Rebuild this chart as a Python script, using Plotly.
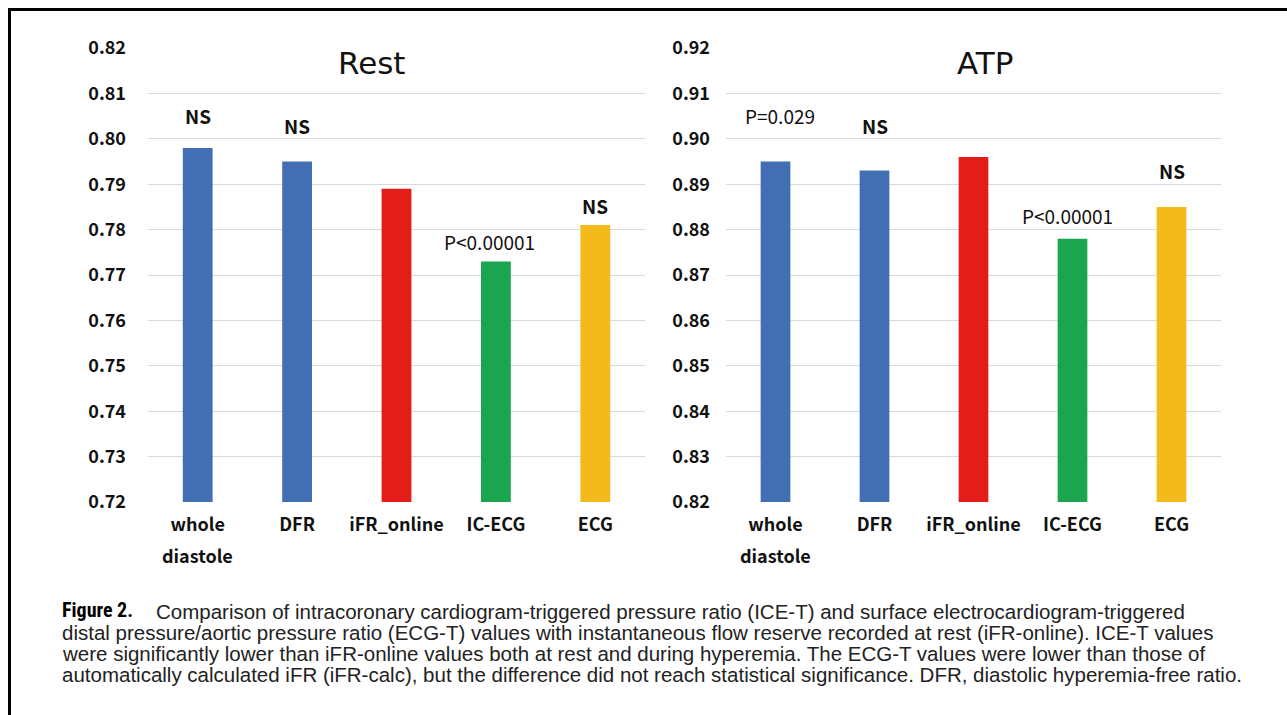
import plotly.graph_objects as go

# ---------------- data ----------------
categories = ["whole diastole", "DFR", "iFR_online", "IC-ECG", "ECG"]
tick_labels = ["whole", "DFR", "iFR_online", "IC-ECG", "ECG"]
tick_second_line = ["diastole", "", "", "", ""]
bar_colors = ["#426EB4", "#426EB4", "#E31E1A", "#1BA54E", "#F4BA1B"]

rest_values = [0.798, 0.795, 0.789, 0.773, 0.781]
atp_values = [0.895, 0.893, 0.896, 0.878, 0.885]

rest_labels = ["NS", "NS", "", "P&lt;0.00001", "NS"]
atp_labels = ["P=0.029", "NS", "", "P&lt;0.00001", "NS"]

rest_ticks = [0.72, 0.73, 0.74, 0.75, 0.76, 0.77, 0.78, 0.79, 0.80, 0.81, 0.82]
atp_ticks = [0.82, 0.83, 0.84, 0.85, 0.86, 0.87, 0.88, 0.89, 0.90, 0.91, 0.92]

panel_titles = ["Rest", "ATP"]

caption_lines = [
    "Comparison of intracoronary cardiogram-triggered pressure ratio (ICE-T) and surface electrocardiogram-triggered",
    "distal pressure/aortic pressure ratio (ECG-T) values with instantaneous flow reserve recorded at rest (iFR-online). ICE-T values",
    "were significantly lower than iFR-online values both at rest and during hyperemia. The ECG-T values were lower than those of",
    "automatically calculated iFR (iFR-calc), but the difference did not reach statistical significance. DFR, diastolic hyperemia-free ratio.",
]
caption_head = "Figure 2."

# ---------------- layout helpers ----------------
W, H = 1287, 715


def px(x):
    return x / W


def py(y):
    return 1 - y / H


JP = "Noto Sans CJK JP, Noto Sans, Liberation Sans, sans-serif"
TITLE = "DejaVu Sans, Noto Sans, sans-serif"
CAP = "Liberation Sans, Arial, Helvetica, sans-serif"
NARROW = "Liberation Sans Narrow, Arial Narrow, Roboto Condensed, Liberation Sans, sans-serif"

fig = go.Figure()

fig.add_trace(go.Bar(x=categories, y=rest_values, marker=dict(color=bar_colors, line=dict(width=0)),
                     width=0.3, xaxis="x", yaxis="y", hoverinfo="x+y", showlegend=False))
fig.add_trace(go.Bar(x=categories, y=atp_values, marker=dict(color=bar_colors, line=dict(width=0)),
                     width=0.3, xaxis="x2", yaxis="y2", hoverinfo="x+y", showlegend=False))

y_dom = [py(502), py(48)]
tick_font = dict(family=JP, size=18, color="#111111", weight="bold")

common_x = dict(type="category", categoryorder="array", categoryarray=categories,
                tickvals=categories, ticktext=tick_labels, showgrid=False, zeroline=False,
                showline=False, ticks="", tickfont=tick_font, ticklabelstandoff=10,
                automargin=False)
common_y = dict(showgrid=True, gridcolor="#D9D9D9", gridwidth=1, zeroline=False, showline=False,
                ticks="", tickfont=tick_font, tickformat=".2f", domain=y_dom, automargin=False)

fig.update_layout(
    width=W, height=H, autosize=False,
    margin=dict(l=0, r=0, t=0, b=0, pad=0, autoexpand=False),
    paper_bgcolor="white", plot_bgcolor="white",
    showlegend=False,
    bargap=0.7,
    xaxis=dict(domain=[px(148), px(645)], anchor="y", **common_x),
    yaxis=dict(anchor="x", range=[rest_ticks[0], rest_ticks[-1]], tickvals=rest_ticks,
               ticklabelstandoff=21, **common_y),
    xaxis2=dict(domain=[px(726), px(1221)], anchor="y2", **common_x),
    yaxis2=dict(anchor="x2", range=[atp_ticks[0], atp_ticks[-1]], tickvals=atp_ticks,
                ticklabelstandoff=15, **common_y),
)

annotations = []

# panel titles
for title, xc in zip(panel_titles, [372, 985]):
    annotations.append(dict(text=title, xref="paper", yref="paper", x=px(xc), y=py(63),
                            xanchor="center", yanchor="middle", showarrow=False,
                            font=dict(family=TITLE, size=31, color="#111111")))

# second line of x tick labels
for xa, ya in [("x", "y"), ("x2", "y2")]:
    for cat, line2 in zip(categories, tick_second_line):
        if line2:
            annotations.append(dict(text=line2, xref=xa, yref="paper", x=cat, y=py(555),
                                    xanchor="center", yanchor="middle", showarrow=False,
                                    font=tick_font))

# significance labels (positions given in axis units)
rest_label_y = [0.8052, 0.8030, None, 0.7773, 0.7853]
rest_label_dx = [0, 0, 0, -6, 0]
atp_label_y = [0.9052, 0.9030, None, 0.8831, 0.8930]
atp_label_dx = [4, 0, 0, -5, 0]

for xa, ya, labels, ys, dxs in [("x", "y", rest_labels, rest_label_y, rest_label_dx),
                                ("x2", "y2", atp_labels, atp_label_y, atp_label_dx)]:
    for cat, lab, yv, dx in zip(categories, labels, ys, dxs):
        if not lab:
            continue
        annotations.append(dict(text=lab, xref=xa, yref=ya, x=cat, y=yv, xshift=dx,
                                xanchor="center", yanchor="middle", showarrow=False,
                                font=dict(family=JP, size=19, color="#111111",
                                          weight="bold" if lab == "NS" else "normal")))

# caption
cap_y = [611, 632, 653, 674]
annotations.append(dict(text="<b>" + caption_head + "</b>", xref="paper", yref="paper",
                        x=px(60), y=py(cap_y[0] - 1), xanchor="left", yanchor="middle",
                        showarrow=False, font=dict(family=NARROW, size=20, color="#000000")))
for i, line in enumerate(caption_lines):
    x0 = 154 if i == 0 else 60
    annotations.append(dict(text=line, xref="paper", yref="paper", x=px(x0), y=py(cap_y[i]),
                            xanchor="left", yanchor="middle", showarrow=False,
                            font=dict(family=CAP, size=20.5, color="#222222")))

fig.update_layout(annotations=annotations)

# frame (top and left edges of the figure box)
fig.add_shape(type="line", xref="paper", yref="paper", x0=px(9.5), x1=px(9.5), y0=0, y1=py(9.5),
              line=dict(color="black", width=3))
fig.add_shape(type="line", xref="paper", yref="paper", x0=px(8), x1=1, y0=py(9.5), y1=py(9.5),
              line=dict(color="black", width=3))

post = """
document.documentElement.style.margin='0';document.body.style.margin='0';
document.documentElement.style.overflow='hidden';document.body.style.overflow='hidden';
var gd=document.getElementById('{plot_id}');
gd.style.position='fixed';gd.style.top='0px';gd.style.left='0px';
"""

fig.write_html("out.html", config={"displayModeBar": False}, post_script=post)
